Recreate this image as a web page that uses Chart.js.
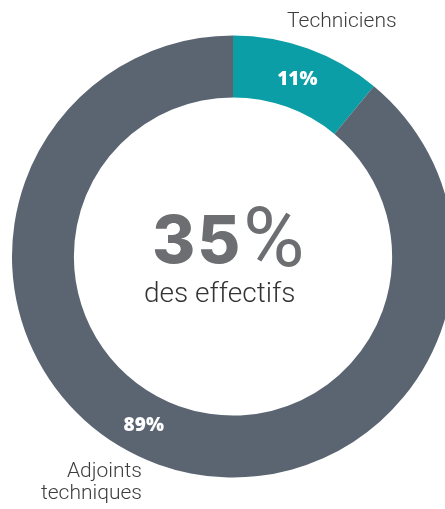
<!DOCTYPE html>
<html><head><meta charset="utf-8">
<script src="https://cdn.jsdelivr.net/npm/chart.js@4/dist/chart.umd.min.js"></script>
<style>
html,body{margin:0;padding:0;overflow:hidden;background:#fff;width:445px;height:509px;}
#wrap{position:relative;width:470px;height:509px;}
#c{position:absolute;left:0;top:0;}
.t{position:absolute;font-family:Roboto,sans-serif;font-weight:300;color:#3d3d3d;white-space:nowrap;}
.pl{position:absolute;font-family:"Open Sans",sans-serif;font-weight:800;color:#fff;font-size:19px;line-height:19px;transform:translate(-50%,-50%);white-space:nowrap;}
</style></head>
<body><div id="wrap"><canvas id="c" width="470" height="509"></canvas>
<div class="t" id="lab0" style="left:287px;top:9.5px;font-size:21px;line-height:21px;"></div>
<div class="t" id="lab1" style="right:328px;top:459px;font-size:21px;line-height:22px;text-align:right;"></div>
<div class="t" id="bigNum" style="left:152px;top:206px;font-family:Inter,sans-serif;font-weight:800;font-size:66px;line-height:66px;letter-spacing:2px;color:#6d6e71;"></div>
<div class="t" id="bigUnit" style="left:243px;top:196px;font-weight:400;font-size:84px;line-height:84px;color:#6d6e71;"></div>
<div class="t" id="sub" style="left:144px;top:278.5px;font-size:28px;line-height:28px;color:#333;"></div>
</div>
<script>
const categories = ["Techniciens", "Adjoints\ntechniques"];
const values = [11, 89];
const percentLabels = ["11%", "89%"];
const centerValue = "35";
const centerUnit = "%";
const centerCaption = "des effectifs";
const colors = ["#0b9ea6", "#5b6572"];

document.getElementById('lab0').textContent = categories[0];
document.getElementById('lab1').innerHTML = categories[1].split('\n').join('<br>');
document.getElementById('bigNum').textContent = centerValue;
document.getElementById('bigUnit').textContent = centerUnit;
document.getElementById('sub').textContent = centerCaption;

// angle (deg from top) override for label placement; null = arc middle
const labelAngle = [null, 208];

const labelPlugin = {
  id: 'pctLabels',
  afterRender(chart) {
    const meta = chart.getDatasetMeta(0);
    const wrap = document.getElementById('wrap');
    meta.data.forEach((arc, i) => {
      let id = 'pl' + i;
      let d = document.getElementById(id);
      if (!d) { d = document.createElement('div'); d.id = id; d.className = 'pl'; wrap.appendChild(d); }
      d.textContent = percentLabels[i];
      let x, y;
      if (labelAngle[i] === null) {
        const p = arc.tooltipPosition();
        x = p.x; y = p.y;
      } else {
        const r = (arc.innerRadius + arc.outerRadius) / 2;
        const a = labelAngle[i] * Math.PI / 180;
        x = arc.x + r * Math.sin(a); y = arc.y - r * Math.cos(a);
      }
      d.style.left = x + 'px'; d.style.top = y + 'px';
    });
  }
};

new Chart(document.getElementById('c'), {
  type: 'doughnut',
  data: { labels: categories, datasets: [{ data: values, backgroundColor: colors, borderWidth: 0 }] },
  options: {
    responsive: false, animation: false, cutout: '72%',
    layout: { padding: { left: 12, top: 35.5, right: 16, bottom: 31.5 } },
    plugins: { legend: { display: false }, tooltip: { enabled: false } }
  },
  plugins: [labelPlugin]
});
</script>
</body></html>
